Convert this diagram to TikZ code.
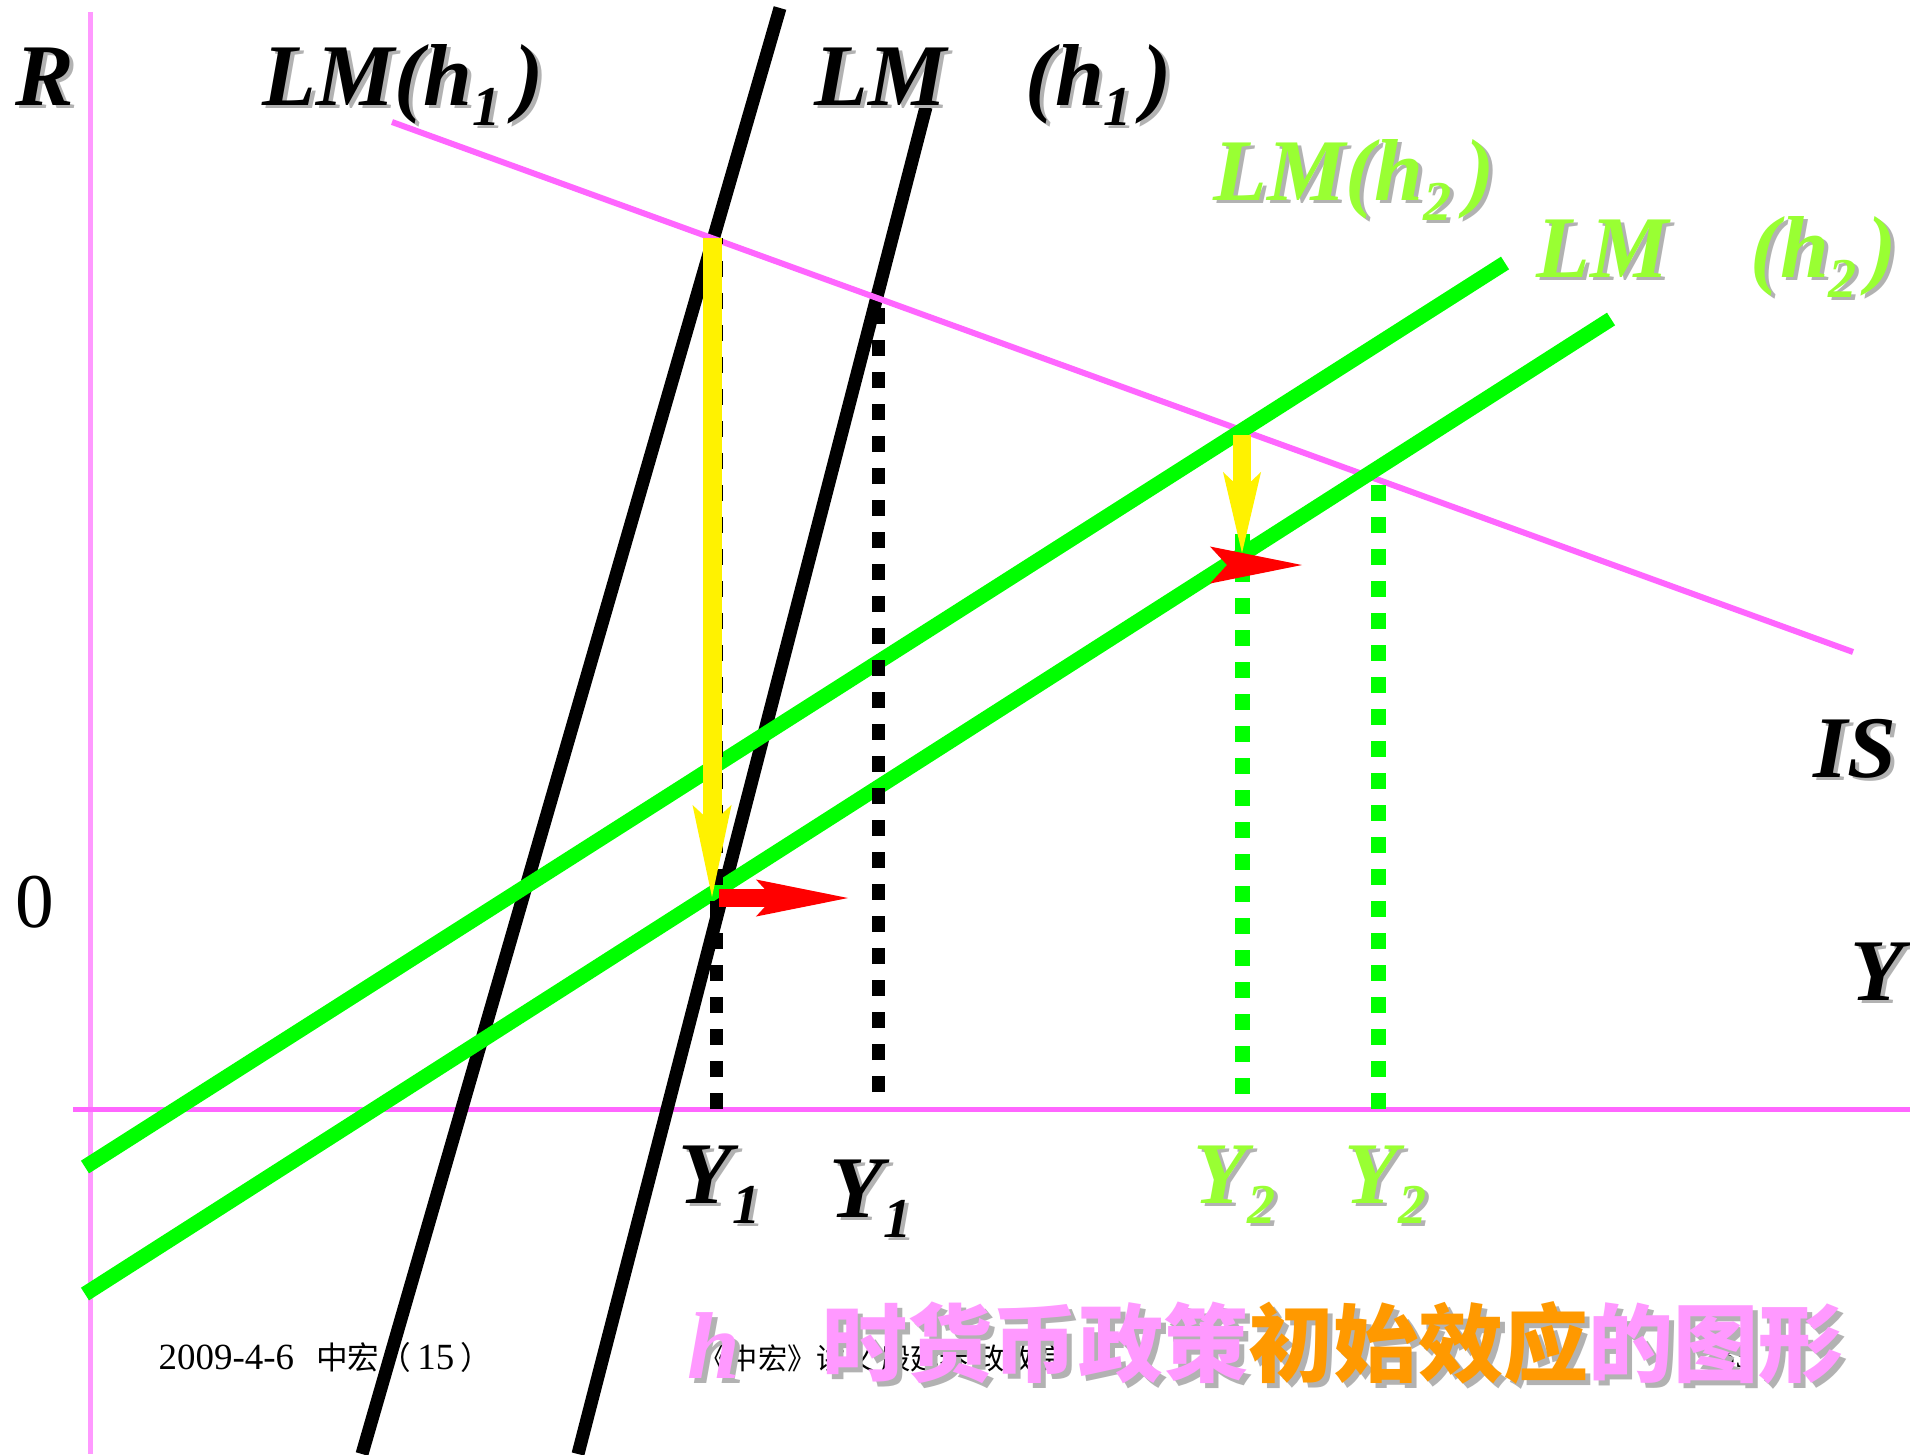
\documentclass[tikz,border=0pt]{standalone}
\usepackage{fontspec}
\setmainfont{Liberation Serif}
\newfontfamily\cjkfont{Noto Sans CJK SC}
\usepackage{tikz}
\usetikzlibrary{calc,arrows.meta,positioning}
\definecolor{axisA}{HTML}{FF99FF}
\definecolor{isA}{HTML}{FF66FF}
\definecolor{lmB}{HTML}{00FF00}
\definecolor{lblB}{HTML}{99FF33}
\definecolor{shadeA}{HTML}{B2B2B2}
\definecolor{titleA}{HTML}{FF99FF}
\definecolor{titleB}{HTML}{FF9900}
\newcommand{\lowidx}[1]{\raisebox{-5.7pt}{\fontsize{16}{16}\selectfont #1}}
\newcommand{\shlabel}[5][lbl]{%
  \node[#1,text=shadeA] (#2-sh) at ($#3+(4,3)$) {#5};
  \node[#1,text=#4] (#2) at #3 {#5};}

\begin{document}
\begin{tikzpicture}[x=0.01cm,y=-0.01cm,
    lbl/.style={anchor=base west,inner sep=0pt,font=\fontsize{25}{25}\selectfont\bfseries\itshape},
    foot/.style={anchor=base west,inner sep=0pt,font=\fontsize{10.5}{10.5}\selectfont},
    ttl/.style={anchor=base west,inner sep=0pt,font=\cjkfont\bfseries\fontsize{24.2}{24.2}\selectfont},
    ttlh/.style={anchor=base west,inner sep=0pt,font=\fontsize{27}{27}\selectfont\bfseries\itshape},
    isline/.style={isA,line width=0.06cm},
    lmone/.style={black,line width=0.13cm},
    lmtwo/.style={lmB,line width=0.15cm},
    dotA/.style={black,line width=0.13cm,dash pattern=on 0.16cm off 0.16cm},
    dotB/.style={lmB,line width=0.15cm,dash pattern=on 0.16cm off 0.16cm},
    shiftY/.style={yellow,line width=0.19cm,-{Stealth[length=0.92cm,width=0.39cm,inset=0.18cm,line width=0pt]}},
    shiftR/.style={red,line width=0.18cm,-{Stealth[length=0.92cm,width=0.37cm,inset=0.17cm,line width=0pt]}}]
      \useasboundingbox (0,0) rectangle (1910,1454);
      \fill[white] (0,0) rectangle (1910,1454);

      % axes
      \coordinate (Rtop) at (90,12);
      \coordinate (Rbot) at (90,1454);
      \coordinate (Yleft) at (73,1109);
      \coordinate (Yright) at (1910,1109);
      \draw[axisA, line width=0.05cm] (Rtop) -- (Rbot);
      \draw[isA, line width=0.05cm] (Yleft) -- (Yright);

      % LM(h1): two steep black curves
      \coordinate (LMa1) at (780,8);
      \coordinate (LMa2) at (362,1454);
      \coordinate (LMb1) at (926,107);
      \coordinate (LMb2) at (578,1454);
      \draw[lmone] (LMa1) -- (LMa2);
      \draw[lmone] (LMb1) -- (LMb2);

      % IS curve
      \coordinate (IS1) at (392,122);
      \coordinate (IS2) at (1853,652);
      \draw[isline] (IS1) -- (IS2);

      % LM(h2): two flat green curves
      \coordinate (LMc1) at (85,1167);
      \coordinate (LMc2) at (1505,263);
      \coordinate (LMd1) at (85,1294);
      \coordinate (LMd2) at (1611,319);
      \draw[lmtwo] (LMc1) -- (LMc2);
      \draw[lmtwo] (LMd1) -- (LMd2);

      % equilibrium points
      \coordinate (E1) at (712,238);
      \coordinate (E1b) at (712,897);
      \coordinate (E2) at (878,305);
      \coordinate (E3) at (1242,435);
      \coordinate (E3b) at (1242,553);
      \coordinate (E4) at (1378,485);

      % drop lines to the Y axis
      \draw[dotA] (716,1109) -- (716,238);
      \draw[dotA] (878,1092) -- (E2);
      \draw[dotB] (1242,1094) -- (1242,440);
      \draw[dotB] (1378,1109) -- (E4);

      % initial effect: R falls, Y rises
      \draw[shiftY] (E1) -- (E1b);
      \draw[shiftR] (719,898) -- (848,898);
      \draw[shiftY, line width=0.18cm, -{Stealth[length=0.81cm,width=0.38cm,inset=0.18cm,line width=0pt]}] (E3) -- (E3b);
      \draw[shiftR] (1233,565) -- (1302,565);

      % axis and curve labels
      \shlabel{r}{(15,105)}{black}{R}
      \node[anchor=base west, inner sep=0pt, font=\fontsize{22}{22}\selectfont] (zero) at (15,927) {0};
      \shlabel{lm1a}{(262,105)}{black}{LM(h\lowidx{1}\hspace{0.15em})}
      \shlabel{lm1b}{(814,105)}{black}{LM}
      \shlabel{lm1c}{(1025,105)}{black}{(h\lowidx{1}\hspace{0.12em})}
      \shlabel{lm2a}{(1213,200)}{lblB}{LM(h\lowidx{2}\hspace{0.15em})}
      \shlabel{lm2b}{(1536,277)}{lblB}{LM}
      \shlabel{lm2c}{(1750,277)}{lblB}{(h\lowidx{2}\hspace{0.12em})}
      \shlabel{is}{(1813,777)}{black}{IS}
      \shlabel{y}{(1850,1000)}{black}{Y}
      \shlabel{y1a}{(678,1203)}{black}{Y\lowidx{1}}
      \shlabel{y1b}{(829,1217)}{black}{Y\lowidx{1}}
      \shlabel{y2a}{(1193,1203)}{lblB}{Y\lowidx{2}}
      \shlabel{y2b}{(1344,1203)}{lblB}{Y\lowidx{2}}

      % footer
      \node[foot] (date) at (158,1369) {2009-4-6\hspace{0.6em}{\cjkfont\fontsize{9}{9}\selectfont 中宏（}\,15\,{\cjkfont\fontsize{9}{9}\selectfont ）}};
      \node[foot] (course) at (699,1369) {\cjkfont\fontsize{8.3}{8.3}\selectfont 《中宏》讲义\ 殷延春\ 政教院};
      \node[foot] (page) at (1716,1367) {39};

      % title
      \node[ttlh, text=shadeA] (th-sh) at (692,1383) {h};
      \node[ttlh, text=titleA] (th) at (687,1378) {h};
      \node[ttl, text=shadeA] (title-sh) at (827,1380) {时货币政策初始效应的图形};
      \node[ttl] (title) at (822,1375) {\color{titleA}时货币政策\color{titleB}初始效应\color{titleA}的图形};
\end{tikzpicture}
\end{document}
